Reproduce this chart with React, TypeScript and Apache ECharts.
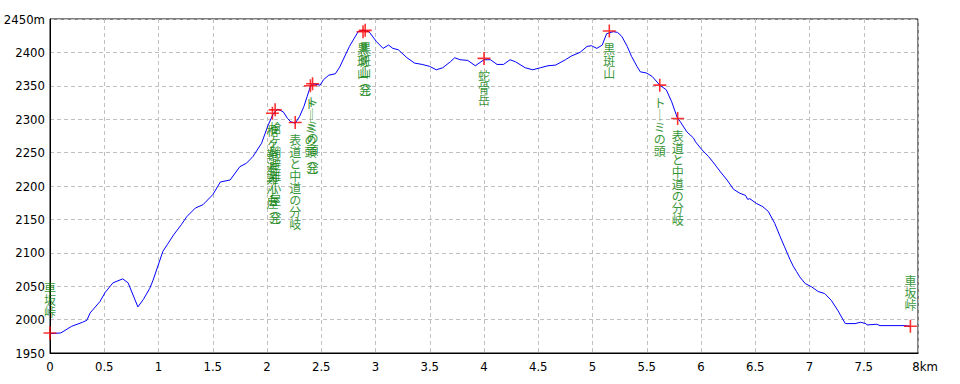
import React, { useEffect, useRef } from "react";
import * as echarts from "echarts";

// Elevation profile (distance km, elevation m)
const profileKm = [
  0, 0.1, 0.2, 0.3, 0.34, 0.37, 0.46, 0.51, 0.58, 0.67, 0.72, 0.81, 0.86, 0.92, 0.95,
  1.04, 1.08, 1.14, 1.21, 1.26, 1.34, 1.41, 1.5, 1.57, 1.66, 1.75, 1.81, 1.87, 1.95,
  2.01, 2.06, 2.1, 2.15, 2.19, 2.22, 2.26, 2.3, 2.34, 2.37, 2.4, 2.42, 2.49, 2.52,
  2.57, 2.63, 2.67, 2.76, 2.84, 2.89, 2.94, 3.01, 3.07, 3.12, 3.16, 3.21, 3.29, 3.36,
  3.43, 3.5, 3.56, 3.62, 3.69, 3.73, 3.78, 3.85, 3.92, 4.0, 4.06, 4.12, 4.18, 4.24,
  4.29, 4.38, 4.45, 4.52, 4.59, 4.66, 4.75, 4.81, 4.885, 4.95, 4.99, 5.04, 5.09, 5.13,
  5.19, 5.23, 5.27, 5.32, 5.36, 5.41, 5.44, 5.5, 5.55, 5.62, 5.68, 5.73, 5.78, 5.81,
  5.87, 5.93, 5.95, 6.01, 6.07, 6.11, 6.18, 6.24, 6.3, 6.36, 6.41, 6.43, 6.45, 6.51,
  6.57, 6.62, 6.68, 6.73, 6.77, 6.82, 6.85, 6.88, 6.91, 6.96, 7.02, 7.08, 7.14, 7.2,
  7.26, 7.33, 7.42, 7.47, 7.52, 7.53, 7.62, 7.65, 7.88, 7.93,
];
const profileElev = [
  1979, 1980, 1990, 1996, 1999, 2010, 2027, 2041, 2055, 2061, 2055, 2019, 2030, 2047, 2059,
  2102, 2112, 2127, 2142, 2154, 2167, 2172, 2187, 2206, 2209, 2229, 2234, 2244, 2264,
  2291, 2309, 2315, 2311, 2301, 2296, 2294, 2304, 2319, 2334, 2349, 2353, 2351, 2359,
  2366, 2368, 2378, 2409, 2431, 2433, 2431, 2416, 2406, 2411, 2406, 2404, 2392, 2384,
  2382, 2379, 2374, 2377, 2386, 2392, 2389, 2388, 2380, 2389, 2389, 2382, 2382, 2389,
  2386, 2377, 2374, 2377, 2380, 2381, 2389, 2395, 2400, 2409, 2410, 2406, 2411, 2428,
  2431, 2430, 2424, 2409, 2394, 2379, 2371, 2369, 2364, 2351, 2344, 2326, 2303, 2296,
  2281, 2272, 2266, 2254, 2244, 2236, 2221, 2209, 2195, 2189, 2186, 2180, 2181, 2174,
  2169, 2162, 2144, 2124, 2109, 2090, 2080, 2072, 2064, 2054, 2049, 2042, 2039, 2029,
  2014, 1994, 1994, 1996, 1994, 1992, 1993, 1991, 1991, 1990,
];

// Waypoints
const waypointKm = [0, 2.05, 2.075, 2.26, 2.4, 2.42, 2.885, 2.905, 4.0, 5.155, 5.62, 5.785, 7.93];
const waypointElev = [1980, 2309, 2314, 2295, 2350, 2353, 2431, 2433, 2391, 2432, 2351, 2301, 1990];
const waypointName = [
  "車坂峠",
  "槍ヶ鞘避難小屋",
  "槍ヶ鞘避難小屋（発）",
  "表道と中道の分岐",
  "トーミの頭",
  "トーミの頭（発）",
  "黒斑山",
  "黒斑山（発）",
  "蛇骨岳",
  "黒斑山",
  "トーミの頭",
  "表道と中道の分岐",
  "車坂峠",
];
const waypointLabelSide = ["top", "bottom", "bottom", "bottom", "bottom", "bottom", "bottom", "bottom", "bottom", "bottom", "bottom", "bottom", "top"];

// Axis ticks
const yMin = 1950;
const yMax = 2450;
const yStep = 50;
const xMin = 0;
const xMax = 8;
const xStep = 0.5;

const GREEN = "#007a00";
const CJK = "'Noto Sans CJK JP', 'Noto Sans', sans-serif";
const AXISFONT = "'Liberation Sans Narrow', 'DejaVu Sans Condensed', 'Liberation Sans', sans-serif";

function toVertical(name: string): string {
  return Array.from(name)
    .map((ch) => {
      if (ch === "（") return "{b|︵}";
      if (ch === "）") return "{e|︶}";
      if (ch === "ー") return "{c|｜}";
      return "{c|" + ch + "}";
    })
    .join("\n");
}

export default function App() {
  const ref = useRef<HTMLDivElement>(null);
  useEffect(() => {
    if (!ref.current) return;
    const chart = echarts.init(ref.current, null, { renderer: "svg" });
    const lineData = profileKm.map((d, i) => [d, profileElev[i]]);
    const wpData = waypointKm.map((d, i) => ({
      value: [d, waypointElev[i]],
      name: waypointName[i],
      label: {
        position: waypointLabelSide[i],
        distance: waypointLabelSide[i] === "top" ? 8 : 4,
      },
    }));
    chart.setOption({
      animation: false,
      backgroundColor: "#ffffff",
      grid: {
        left: 50,
        right: 42,
        top: 19,
        bottom: 31,
        show: true,
        borderColor: "#000",
        borderWidth: 1,
        backgroundColor: "transparent",
      },
      xAxis: {
        type: "value",
        min: xMin,
        max: xMax,
        interval: xStep,
        axisLine: { show: true, lineStyle: { color: "#000", width: 1 } },
        axisTick: { show: false },
        axisLabel: {
          color: "#000",
          fontFamily: AXISFONT,
          fontSize: 13,
          margin: 7,
          showMaxLabel: true,
          showMinLabel: true,
          formatter: (v: number) => (v === xMax ? "{p|}" + v + "km" : String(v)),
          rich: {
            p: { width: 14, fontSize: 13 },
          },
        },
        splitLine: { show: true, lineStyle: { color: "#c0c0c0", type: [4, 3], width: 1 } },
      },
      yAxis: {
        type: "value",
        min: yMin,
        max: yMax,
        interval: yStep,
        axisLine: { show: true, lineStyle: { color: "#000", width: 1 } },
        axisTick: { show: false },
        axisLabel: {
          color: "#000",
          fontFamily: AXISFONT,
          fontSize: 13,
          margin: 5,
          showMaxLabel: true,
          showMinLabel: true,
          formatter: (v: number) => (v === yMax ? v + "m" : String(v)),
        },
        splitLine: { show: true, lineStyle: { color: "#c0c0c0", type: [4, 3], width: 1 } },
      },
      series: [
        {
          type: "line",
          data: lineData,
          showSymbol: false,
          symbol: "none",
          lineStyle: { color: "#0000ff", width: 1 },
          z: 2,
        },
        {
          type: "scatter",
          data: wpData,
          symbol: "path://M0,6L12,6M6,0L6,12",
          symbolSize: 13,
          itemStyle: { color: "rgba(0,0,0,0)", borderColor: "#ff0000", borderWidth: 1.6 },
          z: 3,
          label: {
            show: true,
            formatter: (p: any) => toVertical(p.name),
            rich: {
              c: { fontFamily: CJK, fontSize: 12, lineHeight: 12, color: GREEN, align: "center" },
              b: { fontFamily: CJK, fontSize: 12, lineHeight: 6, color: GREEN, align: "center" },
              e: { fontFamily: CJK, fontSize: 12, lineHeight: 6, color: GREEN, align: "center" },
            },
          },
        },
      ],
    });
    return () => chart.dispose();
  }, []);
  return (
    <div
      ref={ref}
      style={{ position: "absolute", left: 0, top: 0, width: 960, height: 384, background: "#fff" }}
    />
  );
}
